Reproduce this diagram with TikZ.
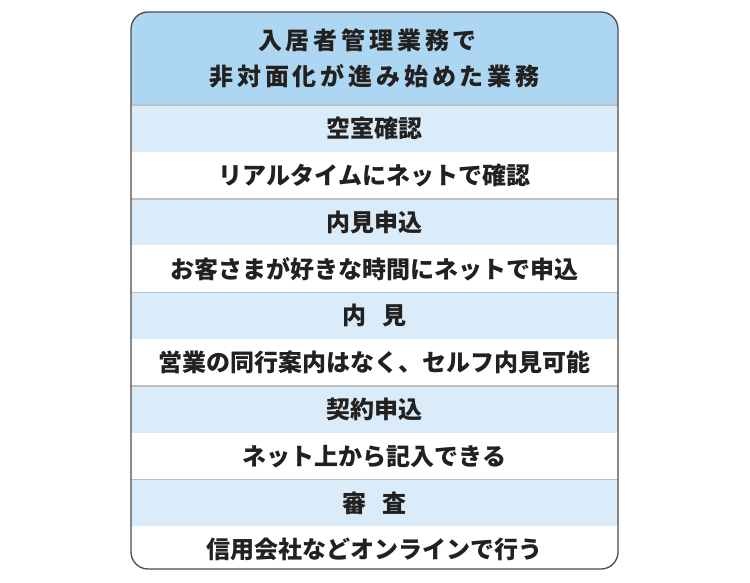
\documentclass[tikz,border=0pt]{standalone}
\usepackage{fontspec}
\usepackage{xcolor}
\setmainfont{Noto Sans CJK JP}
\definecolor{headblue}{RGB}{172,214,241}
\definecolor{rowblue}{RGB}{218,235,249}
\definecolor{inkgray}{RGB}{35,32,32}
\usetikzlibrary{positioning,calc}

\tikzset{
  cell/.style={minimum width=487pt, minimum height=46.4pt, inner sep=0pt, text=inkgray,
    font=\fontsize{24}{28}\selectfont\bfseries},
  stagecell/.style={cell, fill=rowblue},
  notecell/.style={cell, fill=white},
  sepline/.style={draw=gray!50, line width=1.6pt}
}

\begin{document}
\begin{tikzpicture}[x=1pt, y=1pt]
    \useasboundingbox (0,0) rectangle (750,-583);

    \begin{scope}
    \clip[rounded corners=17pt] (131,-12) rectangle (618,-569);
    % Header
    \node [cell, fill=headblue, minimum height=93pt, align=center,
      font=\fontsize{24}{36}\selectfont\bfseries\addfontfeature{LetterSpace=16}] (head) at (374.5,-58.5)
      {入居者管理業務で\hspace*{14pt}\\非対面化が進み始めた業務};

    % Rows
    \node [stagecell, below=0pt of head] (vacancy) {空室確認};
    \node [notecell, below=0pt of vacancy] (vacancynote) {リアルタイムにネットで確認};
    \node [stagecell, below=0pt of vacancynote] (viewreq) {内見申込};
    \node [notecell, below=0pt of viewreq] (viewreqnote) {お客さまが好きな時間にネットで申込};
    \node [stagecell, below=0pt of viewreqnote] (viewing) {内\hspace{0.65em}見};
    \node [notecell, below=0pt of viewing] (viewingnote) {営業の同行案内はなく、セルフ内見可能};
    \node [stagecell, below=0pt of viewingnote] (contract) {契約申込};
    \node [notecell, below=0pt of contract] (contractnote) {ネット上から記入できる};
    \node [stagecell, below=0pt of contractnote] (screening) {審\hspace{0.65em}査};
    \node [notecell, below=0pt of screening] (screeningnote) {信用会社などオンラインで行う};

    % Separators
    \draw [sepline] (head.south west) -- (head.south east);
    \draw [sepline] (vacancynote.south west) -- (vacancynote.south east);
    \draw [sepline] (viewreqnote.south west) -- (viewreqnote.south east);
    \draw [sepline] (viewingnote.south west) -- (viewingnote.south east);
    \draw [sepline] (contractnote.south west) -- (contractnote.south east);
    \end{scope}

    % Frame
    \draw [rounded corners=17pt, draw=black!70, line width=1.3pt] (131,-12) rectangle (618,-569);
\end{tikzpicture}
\end{document}
